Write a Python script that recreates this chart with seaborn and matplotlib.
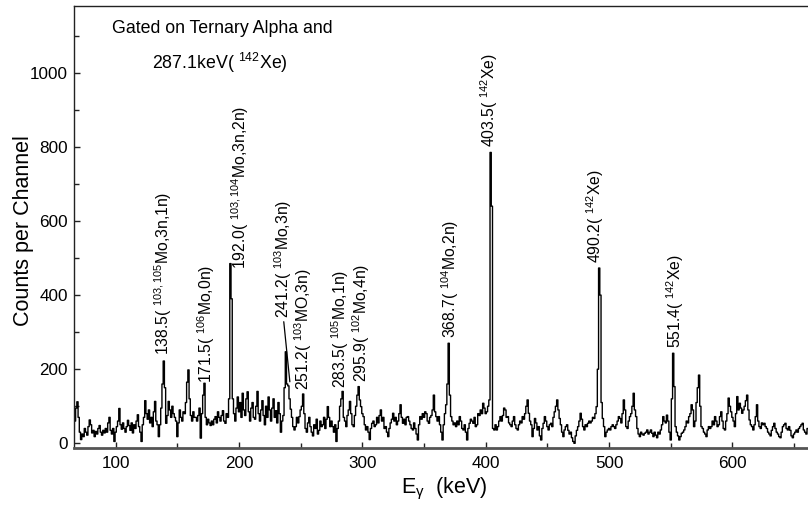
import numpy as np
import pandas as pd
import matplotlib
matplotlib.use("Agg")
import matplotlib.pyplot as plt
import seaborn as sns
from matplotlib.ticker import MultipleLocator

# ---------------- data ----------------
energy_start_kev = 66          # first channel energy (1 keV per channel)
energy_stop_kev = 661          # last channel energy

counts = [
    36, 60, 95, 112, 70, 30, 10, 25, 18, 40,        # 66
    30, 22, 45, 63, 50, 28, 35, 18, 32, 25,         # 76
    40, 48, 30, 22, 35, 28, 40, 30, 55, 70,         # 86
    35, 25, 40, 5, 30, 45, 60, 94, 50, 38,          # 96
    55, 40, 30, 45, 62, 48, 35, 55, 28, 50,         # 106
    40, 60, 77, 45, 30, 5, 50, 70, 115, 80,         # 116
    65, 90, 55, 70, 45, 85, 113, 60, 50, 18,        # 126
    50, 95, 160, 222, 150, 54, 75, 113, 90, 70,     # 136
    100, 80, 70, 60, 18, 55, 90, 70, 60, 85,        # 146
    80, 110, 165, 198, 120, 75, 60, 85, 70, 70,     # 156
    60, 75, 95, 14, 80, 130, 162, 70, 50, 65,       # 166
    55, 48, 60, 50, 65, 72, 55, 85, 70, 60,         # 176
    75, 88, 60, 54, 80, 70, 120, 485, 390, 120,     # 186
    80, 60, 95, 125, 85, 110, 70, 135, 90, 75,      # 196
    120, 139, 85, 60, 95, 110, 70, 65, 100, 140,    # 206
    80, 60, 90, 115, 75, 50, 100, 70, 125, 90,      # 216
    60, 95, 120, 70, 88, 55, 110, 80, 30, 60,       # 226
    75, 150, 247, 160, 155, 120, 92, 70, 45, 36,    # 236
    45, 70, 55, 72, 90, 100, 133, 80, 40, 30,       # 246
    55, 70, 45, 30, 20, 50, 40, 65, 25, 35,         # 256
    60, 45, 50, 70, 40, 65, 99, 70, 45, 60,         # 266
    45, 30, 50, 5, 40, 60, 100, 120, 140, 70,       # 276
    60, 45, 75, 90, 113, 80, 50, 45, 75, 100,       # 286
    130, 153, 117, 99, 80, 72, 50, 36, 45, 30,      # 296
    10, 40, 54, 60, 45, 50, 70, 55, 75, 90,         # 306
    60, 70, 40, 45, 30, 18, 40, 55, 65, 81,         # 316
    60, 70, 50, 60, 80, 104, 70, 54, 65, 50,        # 326
    70, 72, 60, 50, 40, 36, 55, 40, 25, 9,          # 336
    50, 72, 65, 80, 70, 85, 80, 60, 54, 70,         # 346
    75, 90, 130, 85, 72, 60, 72, 50, 30, 9,         # 356
    50, 80, 104, 160, 270, 130, 72, 60, 50, 55,     # 366
    45, 60, 50, 72, 60, 40, 36, 50, 30, 9,          # 376
    40, 54, 65, 60, 54, 70, 45, 50, 80, 75,         # 386
    90, 80, 108, 95, 80, 85, 100, 117, 785, 640,    # 396
    40, 36, 50, 36, 45, 60, 72, 60, 75, 95,         # 406
    90, 70, 72, 55, 50, 45, 60, 72, 50, 40,         # 416
    36, 50, 60, 55, 72, 65, 80, 100, 117, 81,       # 426
    60, 50, 18, 40, 67, 55, 36, 45, 20, 9,          # 436
    40, 54, 72, 60, 45, 36, 50, 54, 45, 70,         # 446
    85, 100, 117, 90, 67, 50, 30, 18, 36, 45,       # 456
    50, 35, 25, 30, 15, 5, 0, 20, 35, 45,           # 466
    60, 81, 65, 45, 36, 50, 45, 54, 60, 55,         # 476
    60, 70, 67, 80, 99, 200, 473, 400, 110, 67,     # 486
    45, 18, 30, 36, 40, 36, 45, 50, 45, 40,         # 496
    50, 60, 72, 67, 55, 80, 117, 90, 45, 40,        # 506
    60, 72, 80, 100, 135, 90, 72, 40, 25, 18,       # 516
    30, 25, 22, 27, 30, 36, 25, 30, 36, 27,         # 526
    18, 30, 22, 15, 30, 25, 36, 50, 72, 60,         # 536
    55, 76, 60, 30, 9, 120, 243, 153, 45, 30,       # 546
    20, 9, 18, 27, 30, 36, 45, 60, 55, 72,          # 556
    80, 104, 90, 45, 60, 110, 150, 184, 100, 45,    # 566
    40, 30, 25, 18, 36, 45, 40, 45, 60, 50,         # 576
    72, 60, 45, 50, 72, 85, 60, 40, 36, 60,         # 586
    80, 122, 100, 85, 70, 60, 45, 80, 126, 90,      # 596
    108, 95, 81, 90, 100, 115, 130, 90, 63, 50,     # 606
    45, 36, 50, 72, 104, 60, 45, 40, 55, 50,        # 616
    54, 45, 40, 30, 25, 20, 35, 45, 54, 40,         # 626
    30, 25, 18, 15, 30, 45, 50, 54, 40, 36,         # 636
    45, 35, 20, 15, 25, 30, 36, 30, 40, 45,         # 646
    50, 54, 36, 30, 25, 40,                         # 656
]

x_ticks = [100, 200, 300, 400, 500, 600]
y_ticks = [0, 200, 400, 600, 800, 1000]

peak_labels = [
    r"138.5( $^{103,105}$Mo,3n,1n)",
    r"171.5( $^{106}$Mo,0n)",
    r"192.0( $^{103,104}$Mo,3n,2n)",
    r"241.2( $^{103}$Mo,3n)",
    r"251.2( $^{103}$MO,3n)",
    r"283.5( $^{105}$Mo,1n)",
    r"295.9( $^{102}$Mo,4n)",
    r"368.7( $^{104}$Mo,2n)",
    r"403.5( $^{142}$Xe)",
    r"490.2( $^{142}$Xe)",
    r"551.4( $^{142}$Xe)",
]
gate_text = ["Gated on Ternary Alpha and", r"287.1keV( $^{142}$Xe)"]
x_label = r"E$_\gamma$  (keV)"
y_label = "Counts per Channel"

# ---------------- layout (positions in data units) ----------------
label_pos = [(138.1, 238), (173.7, 164), (201.0, 470), (236.0, 337),
             (251.9, 144), (281.8, 148), (299.2, 166), (371.0, 283),
             (402.6, 800), (488.8, 486), (553.4, 256)]
leader_index = 3
leader_target = (241.2, 166)
gate_pos = [(97.0, 1120), (129.4, 1026)]

# ---------------- style ----------------
sns.set_style("ticks")
plt.rcParams.update({
    "font.family": ["Liberation Sans", "DejaVu Sans"],
    "mathtext.fontset": "custom",
    "mathtext.rm": "Liberation Sans",
    "mathtext.it": "Liberation Sans",
    "mathtext.sf": "Liberation Sans",
    "mathtext.bf": "Liberation Sans:bold",
    "text.color": "black",
    "axes.labelcolor": "black",
    "xtick.color": "#222222",
    "ytick.color": "#222222",
})

energy = np.arange(energy_start_kev, energy_stop_kev + 1)
df = pd.DataFrame({"energy": energy, "counts": counts})

fig = plt.figure(figsize=(8.08, 5.08), dpi=100)
ax = fig.add_axes([74 / 808, 1 - 448.3 / 508, (808 - 74) / 808, (448.3 - 5.7) / 508])

sns.lineplot(data=df, x="energy", y="counts", ax=ax, color="black",
             linewidth=1.0, drawstyle="steps-mid", estimator=None)

ax.set_xlim(66.2, 661.3)
ax.set_ylim(-13.5, 1181)
ax.set_xticks(x_ticks)
ax.set_yticks(y_ticks)
ax.xaxis.set_minor_locator(MultipleLocator(50))
ax.yaxis.set_minor_locator(MultipleLocator(100))
ax.tick_params(which="major", direction="in", length=4.5, width=1.0,
               labelsize=12.3, pad=4.5, labelcolor="black")
ax.tick_params(which="minor", direction="in", length=3.5, width=1.0)
ax.tick_params(axis="x", pad=5.5)

for side in ["left", "top"]:
    ax.spines[side].set_color("#222222")
    ax.spines[side].set_linewidth(1.0)
ax.spines["bottom"].set_color("#555555")
ax.spines["bottom"].set_linewidth(2.0)
ax.spines["right"].set_visible(False)

ax.set_xlabel(x_label, fontsize=15.5)
ax.set_ylabel(y_label, fontsize=15.5)
ax.xaxis.set_label_coords(0.505, -0.062)
ax.yaxis.set_label_coords(-0.055, 0.493)

for txt, (gx, gy) in zip(gate_text, gate_pos):
    ax.text(gx, gy, txt, fontsize=12.8, ha="left", va="center")

for i, (txt, (lx, ly)) in enumerate(zip(peak_labels, label_pos)):
    if i == leader_index:
        ax.annotate(txt, xy=leader_target, xytext=(lx, ly), textcoords="data",
                    rotation=90, ha="center", va="bottom", fontsize=11.3,
                    arrowprops=dict(arrowstyle="-", lw=0.9, color="black",
                                    shrinkA=0, shrinkB=0, relpos=(0.5, 0.0)))
    else:
        ax.text(lx, ly, txt, rotation=90, ha="center", va="bottom",
                fontsize=11.3)

fig.savefig("out.png", dpi=100)
